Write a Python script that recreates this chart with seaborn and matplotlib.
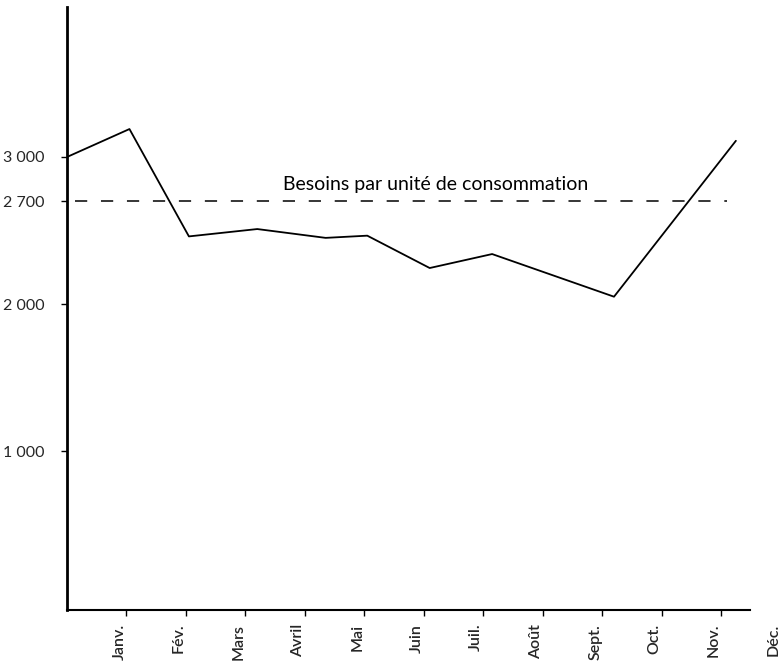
import matplotlib
matplotlib.use("Agg")
import matplotlib.pyplot as plt
import seaborn as sns
import pandas as pd

# données (mois écoulés depuis le 1er janvier)
mois = [0, 1.05, 2.05, 3.2, 4.35, 5.05, 6.1, 7.15, 9.2, 11.25]
calories = [3000, 3190, 2460, 2510, 2450, 2465, 2245, 2340, 2050, 3110]

besoins_x = [0.13, 11.1]
besoins = [2700, 2700]

noms_mois = ["Janv.", "Fév.", "Mars", "Avril", "Mai", "Juin",
             "Juil.", "Août", "Sept.", "Oct.", "Nov.", "Déc."]
y_ticks = [1000, 2000, 2700, 3000]
y_labels = ["1 000", "2 000", "2 700", "3 000"]

df = pd.DataFrame({"mois": mois, "calories": calories})
df_b = pd.DataFrame({"mois": besoins_x, "besoins": besoins})

sns.set_theme(style="white")
plt.rcParams["font.family"] = ["Lato", "DejaVu Sans"]

fig = plt.figure(figsize=(7.84, 6.70), dpi=100)
ax = fig.add_axes([0.0855, 0.0896, 0.91, 0.90])

sns.lineplot(data=df, x="mois", y="calories", color="black", linewidth=1.3,
             sort=False, ax=ax)
sns.lineplot(data=df_b, x="mois", y="besoins", color="black", linewidth=1.1,
             linestyle=(0, (8, 9)), ax=ax)

ax.text(6.2, besoins[0] + 115, "Besoins par unité de consommation",
        ha="center", va="center", fontsize=14, color="black")

ax.set_xlim(0, 12)
ax.set_ylim(-80, 4020)

ax.set_xticks(range(1, 13))
ax.set_xticklabels(noms_mois, rotation=90, ha="right", va="top", fontsize=11.5,
                   fontweight="semibold")
ax.set_yticks(y_ticks)
ax.set_yticklabels(y_labels, fontsize=11.5)

ax.tick_params(axis="both", direction="out", length=4, width=1, color="black",
               bottom=True, left=True)
ax.tick_params(axis="x", pad=6)
ax.tick_params(axis="y", pad=12)
ax.xaxis.get_major_ticks()[-1].tick1line.set_visible(False)

for side in ["top", "right"]:
    ax.spines[side].set_visible(False)
ax.spines["left"].set_linewidth(2)
ax.spines["bottom"].set_linewidth(1.5)
ax.spines["left"].set_color("black")
ax.spines["bottom"].set_color("black")
ax.spines["bottom"].set_bounds(0, 11.48)

ax.set_xlabel("")
ax.set_ylabel("")

fig.savefig("out.png", dpi=100)
